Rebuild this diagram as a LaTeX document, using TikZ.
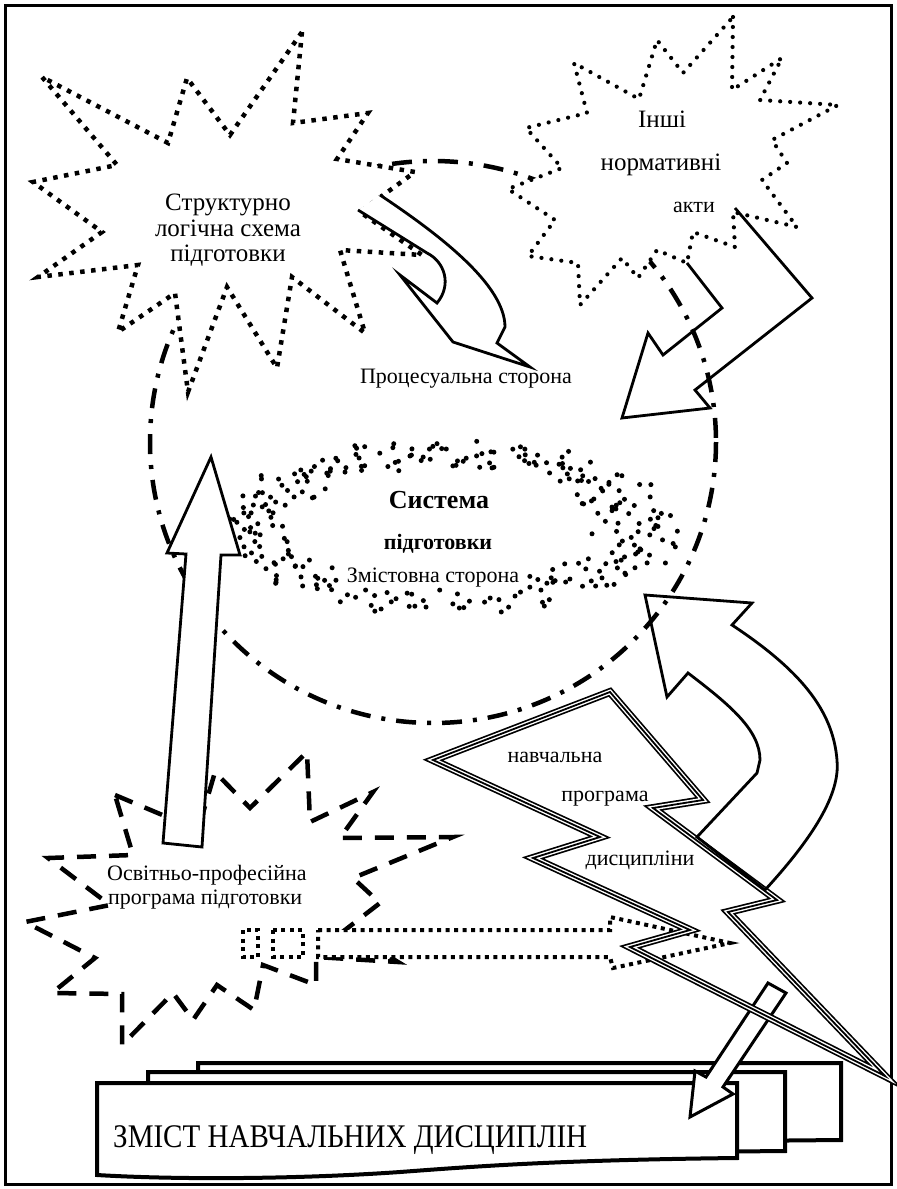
\documentclass[tikz,border=0pt]{standalone}
\usepackage{fontspec}
\setmainfont{Liberation Serif}
\newfontfamily\condserif[FakeStretch=0.88]{Liberation Serif}
\newcommand\LightningPath{(610,692) -- (703,800) -- (653,808) -- (777,900) -- (728,912) -- (885,1076) -- (630,947) -- (690,930) -- (533,858) -- (600,837) -- (433,760) -- cycle}
\begin{document}
\begin{tikzpicture}[x=1pt,y=-1pt,line join=miter,
  frame/.style={line width=3},
  sqdot/.style={line width=4.5, dash pattern=on 4.5pt off 6.5pt},
  rdot/.style={line width=4.2, line cap=round, dash pattern=on 0pt off 10pt},
  dashdot/.style={line width=4.5, dash pattern=on 20pt off 11pt on 4pt off 11pt},
  dashline/.style={line width=4.5, dash pattern=on 19pt off 13pt},
  sqdot2/.style={line width=4, dash pattern=on 4pt off 4.5pt},
  arrowline/.style={line width=2.8},
  docline/.style={line width=4, fill=white},
  lbl/.style={inner sep=0pt, anchor=base, font=\fontsize{22}{25}\selectfont},
  biglbl/.style={inner sep=0pt, anchor=base, font=\fontsize{25}{26}\selectfont},
]
\useasboundingbox (0,0) rectangle (897,1189);
\fill[white] (0,0) rectangle (897,1189);
\draw[frame] (5,5) rectangle (891,1184);

% big dash-dot ellipse
\draw[dashdot] (433,442) ellipse [x radius=283, y radius=281];

% top-left dotted star
\filldraw[fill=white, sqdot] (302,32) -- (293,123) -- (368,113) -- (337,159) -- (415,172) -- (360,212) -- (422,255) -- (340,250) -- (365,333) -- (292,277) -- (277,368) -- (227,287) -- (188,392) -- (175,293) -- (118,332) -- (138,265) -- (38,277) -- (102,232) -- (33,182) -- (117,165) -- (42,77) -- (168,143) -- (187,78) -- (230,135) -- cycle;

% top-right round-dotted star
\filldraw[fill=white, rdot] (733,17) -- (732,90) -- (782,58) -- (760,100) -- (838,105) -- (772,140) -- (787,163) -- (762,180) -- (797,227) -- (733,212) -- (735,247) -- (693,232) -- (687,263) -- (657,250) -- (638,278) -- (622,258) -- (580,305) -- (578,263) -- (528,256) -- (555,220) -- (508,189) -- (562,168) -- (526,128) -- (587,113) -- (574,63) -- (639,99) -- (657,40) -- (683,73) -- cycle;

% procesual curved arrow
\fill[white] (358,210) -- (380,195) .. controls (440,235) and (505,285) .. (505,327) -- (497,343) -- (530,367) -- (453,342) -- (400,275) -- (437,303) .. controls (452,285) and (445,262) .. (427,253) -- cycle;
\draw[arrowline] (358,210) -- (427,253) .. controls (445,262) and (452,285) .. (437,303) -- (400,275) -- (453,342) -- (530,367) -- (497,343) -- (505,327) .. controls (505,285) and (440,235) .. (380,195);

% arrow from the top-right star
\draw[arrowline] (687,263) -- (722,308) -- (663,355) -- (648,333) -- (622,418) -- (710,408) -- (695,390) -- (812,298) -- (735,208);

% inner stippled ring
\pgfmathsetseed{2718}
\foreach \k in {0,...,299}{
  \pgfmathsetmacro\t{(\k+rnd)*1.2}
  \pgfmathsetmacro\bw{(cos(\t)>0) ? 0.30 : 0.25}
  \pgfmathsetmacro\r{1+0.07*sin(34*\t)-\bw*rnd}
  \pgfmathsetmacro\px{450+224*\r*cos(\t)}
  \pgfmathsetmacro\py{526+84*\r*sin(\t)}
  \pgfmathtruncatemacro\keep{(\px>338 && \px<527 && \py>556 && \py<590) ? 0 : 1}
  \ifnum\keep=1 \fill (\px,\py) circle (2.5); \fi
}

% bottom-left dashed star
\draw[dashline] (115,795) -- (198,830) -- (215,772) -- (250,808) -- (307,752) -- (310,822) -- (373,792) -- (340,838) -- (453,837) -- (353,878) -- (380,903) -- (345,930) -- (398,962) -- (316,957) -- (316,985) -- (263,965) -- (254,1010) -- (217,985) -- (193,1020) -- (173,993) -- (122,1045) -- (122,994) -- (52,993) -- (95,958) -- (25,922) -- (110,905) -- (48,858) -- (133,855) -- cycle;

% dotted striped arrow
\fill[white] (243,930) rectangle (303,957);
\filldraw[fill=white, sqdot2] (318,930) -- (610,930) -- (610,917) -- (730,943) -- (613,968) -- (610,957) -- (318,957) -- cycle;
\draw[sqdot2] (243,930) rectangle (258,957) (273,930) rectangle (303,957);

% big up arrow
\filldraw[fill=white, arrowline] (211,457) -- (240,555) -- (221,555) -- (202,847) -- (163,843) -- (186,554) -- (167,553) -- cycle;

% stack of documents
\draw[docline] (198,1063) -- (841,1063) -- (841,1140) -- (198,1146) -- cycle;
\draw[docline] (148,1072) -- (785,1072) -- (785,1151) -- (148,1157) -- cycle;
\draw[docline] (97,1083) -- (737,1083) -- (737,1158) .. controls (560,1160) and (480,1166) .. (400,1172) .. controls (300,1179) and (180,1180) .. (97,1175) -- cycle;

% small arrow into documents
\filldraw[fill=white, line width=3] (768,983) -- (786,993) -- (723,1087) -- (733,1094) -- (690,1117) -- (695,1071) -- (706,1077) -- cycle;

% lightning (triple line)
\draw[line width=8] \LightningPath;
\draw[white, line width=4.6] \LightningPath;
\draw[line width=1.8] \LightningPath;

% curved arrow up-left
\draw[arrowline] (765,890) .. controls (820,830) and (840,790) .. (837,760) .. controls (833,710) and (800,670) .. (732,625) -- (752,603) -- (645,595) -- (667,697) -- (688,673) .. controls (730,705) and (760,730) .. (760,760) -- (757,773) -- (697,837) -- cycle;

% texts
\node[biglbl] (t1) at (228,210) {Структурно};
\node[biglbl] (t2) at (228,236) {логічна схема};
\node[biglbl] (t3) at (228,261) {підготовки};
\node[biglbl] (n1) at (662,127) {Інші};
\node[biglbl] (n2) at (661,170) {нормативні};
\node[lbl] (n3) at (694,212) {акти};
\node[lbl] (p1) at (466,383) {Процесуальна сторона};
\node[inner sep=0pt, anchor=base, font=\fontsize{26}{28}\selectfont\bfseries] (s1) at (439,508) {Система};
\node[inner sep=0pt, anchor=base, font=\fontsize{22}{24}\selectfont\bfseries] (s2) at (438,549) {підготовки};
\node[lbl] (s3) at (433,582) {Змістовна сторона};
\node[lbl] (d1) at (555,762) {навчальна};
\node[lbl] (d2) at (605,801) {програма};
\node[lbl] (d3) at (640,865) {дисципліни};
\node[lbl, anchor=base west] (o1) at (107,880) {Освітньо-професійна};
\node[lbl, anchor=base west] (o2) at (108,904) {програма підготовки};
\node[inner sep=0pt, anchor=base west, font=\condserif\fontsize{33}{35}\selectfont] (z1) at (113,1147) {ЗМІСТ НАВЧАЛЬНИХ ДИСЦИПЛІН};
\end{tikzpicture}
\end{document}
